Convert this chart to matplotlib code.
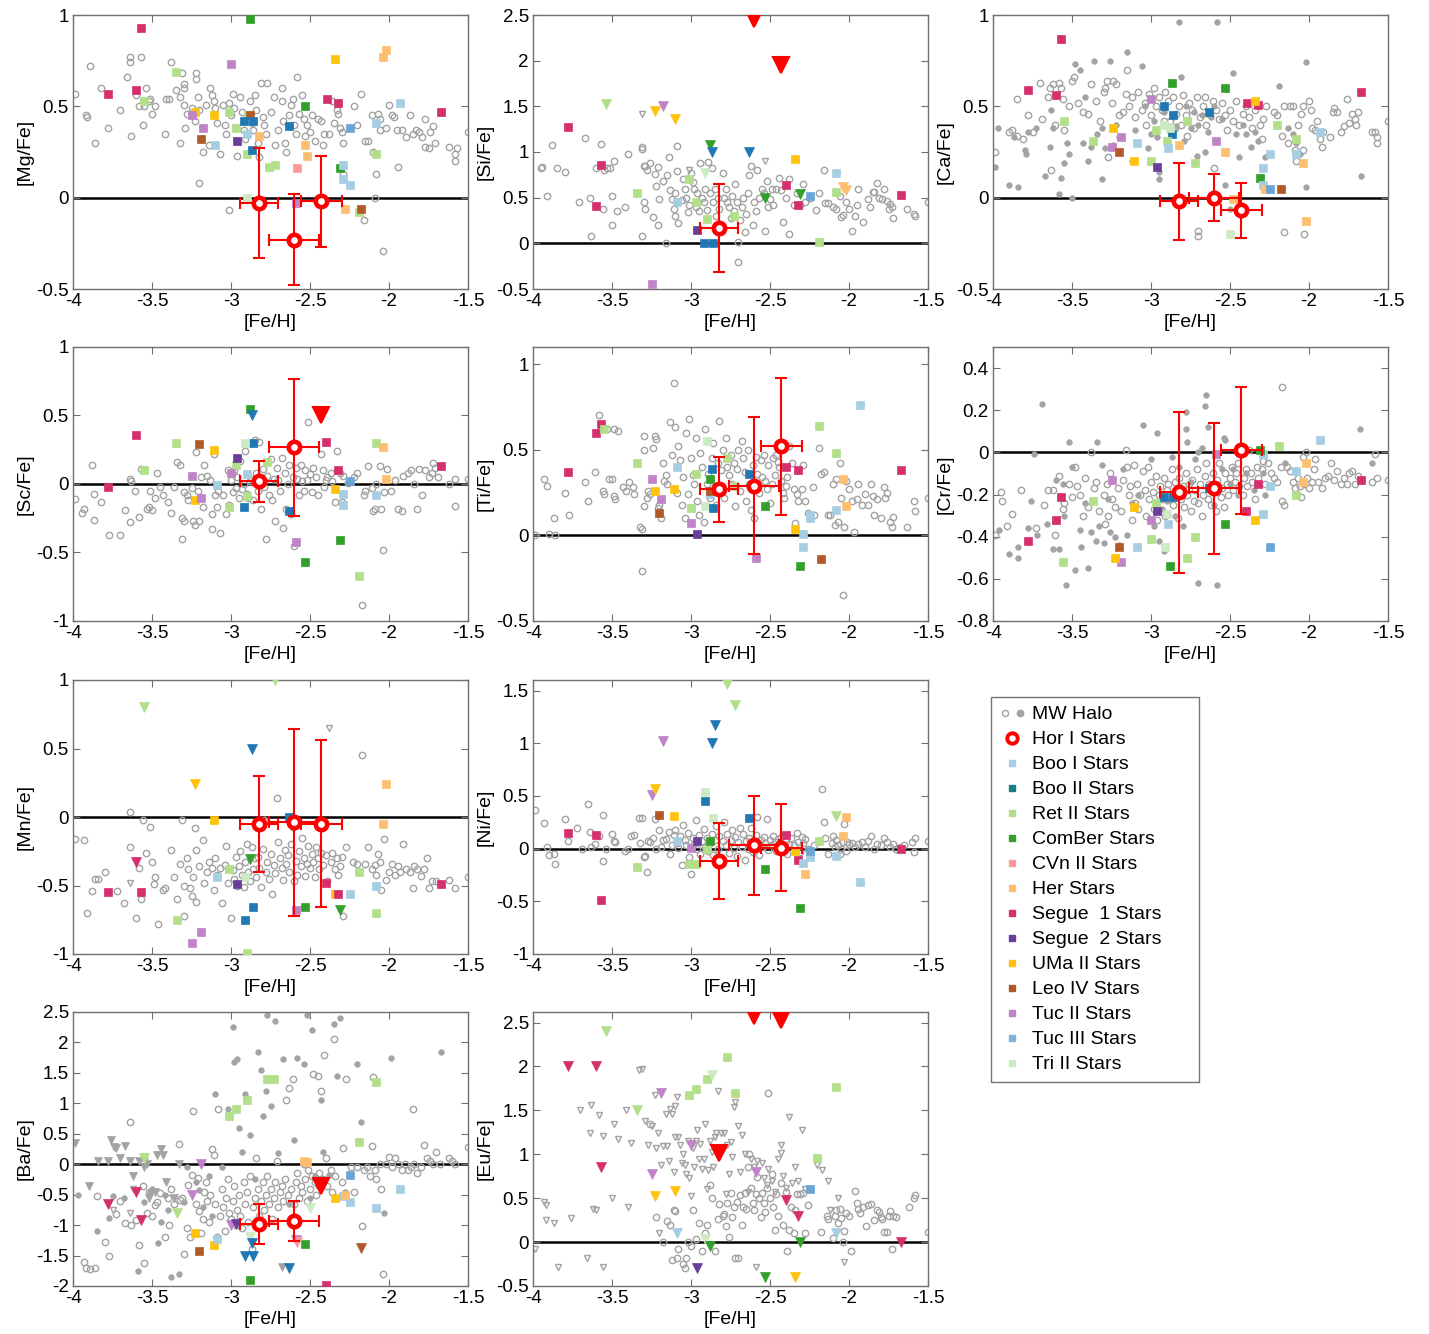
import matplotlib
matplotlib.use("Agg")
import matplotlib.pyplot as plt
from matplotlib.lines import Line2D
from matplotlib.legend_handler import HandlerTuple
from matplotlib.ticker import FuncFormatter

plt.rcParams['font.family'] = ['Liberation Sans', 'DejaVu Sans']

# ---------------- common data ----------------
GALAXIES = ['BooI', 'BooII', 'RetII', 'ComBer', 'CVnII', 'Her', 'Seg1', 'Seg2',
            'UMaII', 'LeoIV', 'TucII', 'TucIII', 'TriII']
GAL_LABELS = ['Boo I Stars', 'Boo II Stars', 'Ret II Stars', 'ComBer Stars', 'CVn II Stars',
              'Her Stars', 'Segue  1 Stars', 'Segue  2 Stars', 'UMa II Stars', 'Leo IV Stars',
              'Tuc II Stars', 'Tuc III Stars', 'Tri II Stars']
HOR_FEH = [-2.82, -2.60, -2.43]
HOR_FEH_ERR = [0.12, 0.16, 0.13]

# ---------------- [Mg/Fe] ----------------
MG_HALO = [(-3.99,0.57),(-3.92,0.45),(-3.91,0.44),(-3.89,0.72),(-3.86,0.30),(-3.82,0.60),(-3.78,0.38),(-3.70,0.48),
 (-3.66,0.66),(-3.64,0.77),(-3.64,0.74),(-3.63,0.34),(-3.60,0.56),(-3.58,0.50),(-3.57,0.77),(-3.56,0.40),(-3.55,0.50),
 (-3.54,0.60),(-3.52,0.53),(-3.51,0.54),(-3.50,0.46),(-3.48,0.50),(-3.42,0.35),(-3.41,0.54),(-3.39,0.54),(-3.38,0.74),
 (-3.35,0.59),(-3.32,0.55),(-3.32,0.30),(-3.31,0.68),(-3.30,0.62),(-3.30,0.60),(-3.30,0.51),(-3.29,0.38),(-3.28,0.46),
 (-3.25,0.49),(-3.23,0.42),(-3.22,0.68),(-3.22,0.65),(-3.21,0.55),(-3.20,0.48),(-3.18,0.25),(-3.16,0.51),(-3.14,0.29),
 (-3.13,0.60),(-3.12,0.56),(-3.11,0.53),(-3.10,0.49),(-3.09,0.41),(-3.07,0.24),(-3.05,0.51),(-3.04,0.40),(-3.03,0.35),
 (-3.01,0.52),(-3.00,0.45),(-2.99,0.57),(-2.98,0.49),(-2.97,0.38),(-2.96,0.23),(-2.94,0.55),(-2.93,0.47),(-2.92,0.37),
 (-2.91,0.32),(-2.89,0.45),(-2.88,0.53),(-2.87,0.41),(-2.86,0.37),(-2.85,0.56),(-2.84,0.48),(-2.83,0.30),(-2.82,0.22),
 (-2.81,0.63),(-2.80,0.44),(-2.79,0.40),(-2.78,0.35),(-2.77,0.63),(-2.75,0.47),(-2.73,0.55),(-2.72,0.29),(-2.70,0.37),
 (-2.68,0.60),(-2.68,0.53),(-2.67,0.42),(-2.66,0.30),(-2.65,0.25),(-2.63,0.45),(-2.62,0.51),(-2.61,0.54),(-2.60,0.40),
 (-2.59,0.35),(-2.58,0.66),(-2.57,0.46),(-2.55,0.56),(-2.54,0.43),(-2.53,0.34),(-2.52,0.40),(-2.50,0.36),(-2.49,0.45),
 (-2.47,0.31),(-2.45,0.43),(-2.43,0.42),(-2.42,0.29),(-2.41,0.35),(-2.38,0.35),(-2.36,0.53),(-2.35,0.41),(-2.33,0.48),
 (-2.32,0.46),(-2.31,0.38),(-2.30,0.36),(-2.29,0.30),(-2.29,0.13),(-2.22,0.50),(-2.20,0.40),(-2.18,0.57),(-2.16,-0.12),
 (-2.15,0.31),(-2.13,0.31),(-2.11,0.45),(-2.10,0.25),(-2.09,0.00),(-2.08,0.13),(-2.07,0.46),(-2.06,0.43),(-2.06,0.37),
 (-2.04,-0.29),(-2.02,0.38),(-2.00,0.51),(-1.98,0.45),(-1.97,0.44),(-1.95,0.37),(-1.94,0.17),(-1.92,0.37),(-1.89,0.33),
 (-1.87,0.45),(-1.85,0.35),(-1.83,0.37),(-1.81,0.36),(-1.79,0.33),(-1.77,0.43),(-1.77,0.28),(-1.75,0.27),(-1.74,0.36),
 (-1.72,0.39),(-1.71,0.30),(-1.62,0.28),(-1.58,0.24),(-1.58,0.20),(-1.57,0.27),(-1.50,0.36),(-3.01,-0.07),(-3.20,0.08)]
MG_DWARF = [('Seg1',0,-3.57,0.93),('Seg1',0,-3.78,0.57),('Seg1',0,-3.60,0.59),('Seg1',0,-2.39,0.54),('Seg1',0,-2.32,0.52),
 ('Seg1',0,-1.67,0.47),('ComBer',0,-2.88,0.98),('ComBer',0,-2.53,0.50),('ComBer',0,-2.31,0.16),('UMaII',0,-2.34,0.76),
 ('UMaII',0,-3.23,0.47),('UMaII',0,-3.11,0.45),('Her',0,-2.02,0.81),('Her',0,-2.04,0.77),('Her',0,-2.82,0.34),
 ('Her',0,-2.53,0.29),('Her',0,-2.52,0.23),('Her',0,-2.28,-0.06),('TucII',0,-3.00,0.73),('TucII',0,-3.25,0.45),
 ('TucII',0,-3.18,0.38),('TucII',0,-2.59,-0.03),('RetII',0,-3.35,0.69),('RetII',0,-3.55,0.53),('RetII',0,-3.01,0.47),
 ('RetII',0,-2.97,0.38),('RetII',0,-2.90,0.24),('RetII',0,-2.76,0.17),('RetII',0,-2.72,0.18),('RetII',0,-2.08,0.24),
 ('RetII',0,-2.19,-0.08),('RetII',0,-2.89,0.45),('TriII',0,-2.90,0.00),('LeoIV',0,-3.19,0.32),('LeoIV',0,-2.88,0.45),
 ('LeoIV',0,-2.18,-0.06),('Seg2',0,-2.96,0.31),('BooII',0,-2.92,0.42),('BooII',0,-2.86,0.42),('BooII',0,-2.87,0.26),
 ('BooII',0,-2.63,0.39),('TucIII',0,-2.25,0.38),('BooI',0,-1.93,0.52),('BooI',0,-2.08,0.41),('BooI',0,-2.29,0.18),
 ('BooI',0,-2.29,0.10),('BooI',0,-2.25,0.07),('BooI',0,-3.10,0.29),('BooI',0,-2.90,0.35),('CVnII',0,-2.58,0.16)]
MG_HOR = [(0,-0.03,0.30),(1,-0.23,0.25),(2,-0.02,0.25)]

# ---------------- [Si/Fe] ----------------
SI_HALO = [(-3.95,0.83),(-3.94,0.84),(-3.91,0.52),(-3.88,1.08),(-3.85,0.83),(-3.80,0.78),(-3.71,0.45),(-3.67,1.15),
 (-3.64,0.50),(-3.63,0.08),(-3.60,0.82),(-3.57,1.09),(-3.56,0.38),(-3.55,0.80),(-3.53,0.82),(-3.51,0.83),(-3.50,0.52),
 (-3.50,0.20),(-3.49,0.90),(-3.47,0.35),(-3.42,0.40),(-3.40,0.98),(-3.31,1.03),(-3.31,1.05),(-3.31,0.08),(-3.30,0.85),
 (-3.30,0.45),(-3.29,0.38),(-3.29,0.85),(-3.28,0.80),(-3.26,0.88),(-3.24,0.29),(-3.23,0.76),(-3.22,0.63),(-3.21,0.84),
 (-3.21,0.20),(-3.20,0.49),(-3.18,0.68),(-3.16,0.00),(-3.15,0.75),(-3.14,0.94),(-3.13,0.58),(-3.12,0.48),(-3.11,0.38),
 (-3.10,0.55),(-3.10,0.30),(-3.09,0.79),(-3.09,1.07),(-3.08,0.22),(-3.06,0.47),(-3.05,0.70),(-3.04,0.60),(-3.03,0.50),
 (-3.02,0.34),(-3.01,0.42),(-3.00,0.77),(-2.99,0.67),(-2.98,0.60),(-2.97,0.40),(-2.96,0.55),(-2.95,0.35),(-2.94,0.88),
 (-2.93,0.50),(-2.92,0.45),(-2.91,0.60),(-2.90,0.37),(-2.89,0.89),(-2.88,0.55),(-2.87,0.82),(-2.86,0.45),(-2.85,0.60),
 (-2.84,0.30),(-2.83,0.50),(-2.82,0.38),(-2.81,0.20),(-2.80,0.77),(-2.79,0.50),(-2.78,0.60),(-2.77,0.45),(-2.76,0.40),
 (-2.75,0.28),(-2.74,0.52),(-2.73,0.35),(-2.72,0.65),(-2.71,0.45),(-2.70,0.02),(-2.70,-0.20),(-2.69,0.25),(-2.68,0.40),
 (-2.67,0.50),(-2.66,0.12),(-2.65,0.32),(-2.64,0.55),(-2.63,0.75),(-2.62,0.85),(-2.61,0.20),(-2.60,0.45),(-2.59,0.35),
 (-2.58,0.80),(-2.57,0.50),(-2.55,0.60),(-2.54,0.55),(-2.53,0.14),(-2.52,0.68),(-2.51,0.40),(-2.50,0.48),(-2.49,0.60),
 (-2.48,0.42),(-2.46,0.60),(-2.44,0.72),(-2.43,0.58),(-2.42,0.23),(-2.40,0.50),(-2.38,0.10),(-2.38,0.70),(-2.35,0.42),
 (-2.33,0.55),(-2.31,0.42),(-2.29,0.65),(-2.28,0.45),(-2.25,0.50),(-2.21,0.37),(-2.19,0.55),(-2.16,0.80),(-2.15,0.44),
 (-2.13,0.44),(-2.10,0.40),(-2.08,0.38),(-2.06,0.52),(-2.05,0.29),(-2.04,0.31),(-2.02,0.45),(-2.00,0.38),(-1.98,0.14),
 (-1.96,0.30),(-1.95,0.42),(-1.94,0.60),(-1.91,0.23),(-1.88,0.48),(-1.87,0.40),(-1.85,0.56),(-1.84,0.56),(-1.82,0.66),
 (-1.81,0.50),(-1.79,0.49),(-1.78,0.60),(-1.76,0.46),(-1.75,0.38),(-1.74,0.43),(-1.73,0.40),(-1.72,0.28),(-1.63,0.38),
 (-1.59,0.32),(-1.58,0.30),(-1.50,0.45)]
SI_HALO_LIM = [(-3.31,1.42),(-3.01,0.80),(-2.53,0.90)]
SI_DWARF = [('RetII',1,-3.54,1.53),('UMaII',1,-3.23,1.45),('UMaII',1,-3.10,1.36),('TucII',1,-3.18,1.50),
 ('ComBer',1,-2.88,1.08),('ComBer',1,-2.53,0.50),('ComBer',1,-2.31,0.54),('BooII',1,-2.87,1.00),('BooII',1,-2.63,1.00),
 ('TriII',1,-2.91,0.77),('Her',1,-2.04,0.62),('Her',1,-2.02,0.58),('TucII',0,-3.25,-0.45),('UMaII',0,-2.34,0.92),
 ('BooII',0,-2.92,0.00),('BooII',0,-2.86,0.00),('Seg1',0,-3.78,1.27),('Seg1',0,-3.57,0.86),('Seg1',0,-3.60,0.41),
 ('Seg1',0,-2.40,0.64),('Seg1',0,-2.32,0.42),('Seg1',0,-1.67,0.53),('RetII',0,-3.34,0.55),('RetII',0,-3.01,0.70),
 ('RetII',0,-2.97,0.45),('RetII',0,-2.90,0.27),('RetII',0,-2.73,0.30),('RetII',0,-2.19,0.02),('RetII',0,-2.08,0.56),
 ('BooI',0,-3.09,0.45),('BooI',0,-2.08,0.77),('TucIII',0,-2.25,0.52),('Seg2',0,-2.96,0.15)]
SI_HOR = [(0,0.17,0.48)]
SI_HOR_LIM = [(1,2.46),(2,1.95)]

# ---------------- [Ca/Fe] ----------------
CA_HALO = [(-3.99,0.25),(-3.90,0.36),(-3.88,0.37),(-3.85,0.54),(-3.85,0.34),(-3.81,0.32),(-3.78,0.45),(-3.75,0.36),
 (-3.70,0.63),(-3.69,0.43),(-3.65,0.55),(-3.64,0.60),(-3.63,0.15),(-3.62,0.62),(-3.61,0.40),(-3.58,0.63),(-3.57,0.60),
 (-3.56,0.54),(-3.55,0.37),(-3.52,0.50),(-3.50,0.64),(-3.49,0.66),(-3.46,0.52),(-3.43,0.47),(-3.40,0.46),(-3.38,0.62),
 (-3.35,0.53),(-3.32,0.42),(-3.30,0.58),(-3.29,0.60),(-3.28,0.64),(-3.27,0.22),(-3.25,0.52),(-3.24,0.64),(-3.22,0.62),
 (-3.20,0.45),(-3.18,0.47),(-3.16,0.57),(-3.15,0.70),(-3.14,0.50),(-3.12,0.55),(-3.10,0.44),(-3.08,0.58),(-3.06,0.48),
 (-3.04,0.52),(-3.03,0.40),(-3.01,0.57),(-3.00,0.45),(-2.98,0.60),(-2.97,0.50),(-2.95,0.55),(-2.93,0.48),(-2.92,0.42),
 (-2.91,0.58),(-2.89,0.53),(-2.88,0.42),(-2.86,0.55),(-2.85,0.38),(-2.84,0.46),(-2.82,0.50),(-2.81,0.40),(-2.80,0.56),
 (-2.78,0.45),(-2.77,0.34),(-2.76,0.52),(-2.74,0.48),(-2.73,0.38),(-2.71,0.55),(-2.70,-0.21),(-2.70,-0.18),(-2.69,0.44),
 (-2.67,0.50),(-2.66,0.55),(-2.65,0.40),(-2.63,0.46),(-2.61,0.53),(-2.60,0.16),(-2.59,0.48),(-2.57,0.43),(-2.55,0.52),
 (-2.53,0.45),(-2.52,0.37),(-2.50,0.48),(-2.48,0.42),(-2.46,0.53),(-2.44,0.40),(-2.42,0.46),(-2.40,0.50),(-2.38,0.44),
 (-2.36,0.38),(-2.34,0.48),(-2.31,0.40),(-2.30,0.32),(-2.29,0.43),(-2.27,0.50),(-2.22,0.47),(-2.20,0.45),(-2.17,0.34),
 (-2.16,0.50),(-2.16,-0.19),(-2.13,0.30),(-2.12,0.50),(-2.10,0.50),(-2.09,0.26),(-2.08,0.20),(-2.07,0.40),(-2.05,0.46),
 (-2.04,0.50),(-2.04,0.26),(-2.03,-0.20),(-2.00,0.53),(-1.99,0.48),(-1.98,0.38),(-1.96,0.37),(-1.95,0.42),(-1.93,0.32),
 (-1.92,0.28),(-1.91,0.36),(-1.87,0.33),(-1.85,0.47),(-1.84,0.49),(-1.82,0.47),(-1.80,0.36),(-1.78,0.39),(-1.76,0.54),
 (-1.75,0.41),(-1.73,0.46),(-1.71,0.43),(-1.70,0.40),(-1.69,0.47),(-1.60,0.36),(-1.58,0.36),(-1.57,0.33),(-1.57,0.30),
 (-1.50,0.42)]
CA_HALO_FILL = [(-3.99,0.17),(-3.97,0.38),(-3.90,0.07),(-3.87,0.33),(-3.84,0.06),(-3.80,0.26),(-3.79,0.24),(-3.78,0.36),
 (-3.73,0.38),(-3.67,0.12),(-3.64,0.28),(-3.63,0.48),(-3.62,0.38),(-3.57,0.11),(-3.58,0.02),(-3.55,0.19),(-3.53,0.30),
 (-3.52,0.24),(-3.48,0.73),(-3.45,0.70),(-3.43,0.30),(-3.42,0.55),(-3.40,0.20),(-3.38,0.28),(-3.36,0.75),(-3.34,0.35),
 (-3.31,0.38),(-3.31,0.10),(-3.29,0.27),(-3.26,0.75),(-3.24,0.29),(-3.22,0.40),(-3.20,0.33),(-3.15,0.80),(-3.12,0.20),
 (-3.10,0.37),(-3.06,0.72),(-3.04,0.50),(-3.02,0.27),(-3.00,0.35),(-2.98,0.42),(-2.96,0.33),(-2.95,0.14),(-2.95,0.10),
 (-2.92,0.47),(-2.90,0.30),(-2.88,0.36),(-2.86,0.44),(-2.84,0.39),(-2.82,0.96),(-2.81,0.66),(-2.79,0.31),(-2.78,0.50),
 (-2.75,0.38),(-2.73,0.47),(-2.71,0.23),(-2.70,0.40),(-2.68,0.45),(-2.66,0.25),(-2.64,0.36),(-2.62,0.44),(-2.60,0.50),
 (-2.58,0.96),(-2.55,0.43),(-2.53,0.07),(-2.50,-0.06),(-2.48,0.68),(-2.46,0.35),(-2.44,0.22),(-2.42,0.40),(-2.40,0.35),
 (-2.37,0.28),(-2.34,0.36),(-2.32,0.31),(-2.28,0.22),(-2.19,0.61),(-2.13,0.38),(-2.10,0.35),(-2.08,0.30),(-2.06,0.24),
 (-2.02,0.74),(-2.02,0.06),(-1.67,0.12),(-3.50,0.00)]
CA_DWARF = [('Seg1',0,-3.57,0.87),('Seg1',0,-3.78,0.59),('Seg1',0,-3.60,0.56),('Seg1',0,-2.39,0.52),('Seg1',0,-2.32,0.51),
 ('Seg1',0,-1.67,0.58),('ComBer',0,-2.87,0.63),('ComBer',0,-2.53,0.60),('ComBer',0,-2.31,0.11),('BooII',0,-2.92,0.50),
 ('BooII',0,-2.86,0.45),('BooII',0,-2.87,0.35),('BooII',0,-2.63,0.47),('UMaII',0,-3.24,0.38),('UMaII',0,-3.11,0.20),
 ('UMaII',0,-2.34,0.53),('RetII',0,-3.55,0.42),('RetII',0,-3.37,0.31),('RetII',0,-3.00,0.20),('RetII',0,-2.97,0.37),
 ('RetII',0,-2.90,0.31),('RetII',0,-2.77,0.42),('RetII',0,-2.72,0.19),('RetII',0,-2.20,0.40),('RetII',0,-2.08,0.32),
 ('TriII',0,-2.92,0.40),('TriII',0,-2.88,0.38),('TriII',0,-2.50,-0.20),('TucII',0,-3.00,0.54),('TucII',0,-3.19,0.33),
 ('TucII',0,-3.25,0.28),('TucII',0,-2.59,0.31),('LeoIV',0,-3.20,0.25),('LeoIV',0,-2.18,0.05),('Seg2',0,-2.96,0.17),
 ('BooI',0,-3.09,0.30),('BooI',0,-2.89,0.27),('BooI',0,-2.25,0.24),('BooI',0,-2.29,0.16),('BooI',0,-2.29,0.07),
 ('BooI',0,-2.08,0.24),('BooI',0,-1.93,0.36),('Her',0,-2.82,0.29),('Her',0,-2.53,0.25),('Her',0,-2.28,0.05),
 ('Her',0,-2.48,-0.01),('Her',0,-2.04,0.19),('Her',0,-2.02,-0.13),('TucIII',0,-2.25,0.05)]
CA_HOR = [(0,-0.02,0.21),(1,0.00,0.13),(2,-0.07,0.15)]

# ---------------- [Sc/Fe] ----------------
SC_HALO = [(-3.99,-0.11),(-3.94,-0.21),(-3.93,-0.18),(-3.88,0.14),(-3.87,-0.07),(-3.87,-0.26),(-3.82,-0.13),(-3.77,-0.37),
 (-3.70,-0.37),(-3.67,-0.19),(-3.64,0.04),(-3.64,-0.28),(-3.63,0.02),(-3.61,-0.05),(-3.58,-0.24),(-3.57,0.11),(-3.53,-0.18),
 (-3.52,-0.17),(-3.51,-0.05),(-3.50,-0.19),(-3.48,-0.10),(-3.47,0.08),(-3.45,-0.02),(-3.43,-0.08),(-3.40,-0.13),(-3.38,-0.21),
 (-3.36,-0.02),(-3.34,0.16),(-3.32,0.14),(-3.31,-0.25),(-3.31,-0.40),(-3.30,-0.27),(-3.30,-0.06),(-3.28,-0.08),(-3.27,-0.12),
 (-3.25,-0.03),(-3.24,-0.27),(-3.23,-0.30),(-3.22,0.23),(-3.21,-0.05),(-3.20,-0.27),(-3.19,0.05),(-3.18,-0.17),(-3.17,0.14),
 (-3.15,0.06),(-3.13,0.03),(-3.12,-0.22),(-3.12,-0.33),(-3.11,0.22),(-3.10,-0.08),(-3.09,-0.17),(-3.08,-0.05),(-3.07,-0.36),
 (-3.05,-0.08),(-3.03,-0.22),(-3.02,0.10),(-3.01,-0.15),(-3.00,0.03),(-2.99,-0.06),(-2.98,0.10),(-2.97,-0.03),(-2.96,0.05),
 (-2.95,-0.10),(-2.94,0.17),(-2.93,-0.04),(-2.92,0.00),(-2.91,0.24),(-2.90,-0.07),(-2.89,-0.10),(-2.88,0.02),(-2.87,0.04),
 (-2.86,-0.12),(-2.85,0.32),(-2.84,0.08),(-2.83,-0.05),(-2.82,0.31),(-2.81,-0.18),(-2.80,0.11),(-2.79,-0.02),(-2.78,-0.40),
 (-2.77,0.06),(-2.76,-0.08),(-2.75,0.18),(-2.74,-0.12),(-2.73,0.04),(-2.72,-0.27),(-2.71,0.12),(-2.70,0.03),(-2.69,-0.05),
 (-2.68,0.19),(-2.67,-0.32),(-2.66,0.08),(-2.65,-0.18),(-2.64,0.00),(-2.63,0.14),(-2.62,-0.22),(-2.61,0.05),(-2.60,-0.45),
 (-2.59,0.12),(-2.58,0.04),(-2.57,-0.08),(-2.56,0.14),(-2.55,0.02),(-2.54,-0.05),(-2.53,0.10),(-2.52,0.03),(-2.51,0.45),
 (-2.50,0.07),(-2.49,-0.06),(-2.48,0.12),(-2.46,0.05),(-2.45,-0.08),(-2.43,0.22),(-2.42,0.10),(-2.41,-0.02),(-2.40,0.03),
 (-2.39,0.05),(-2.37,0.08),(-2.36,0.02),(-2.34,-0.13),(-2.33,0.24),(-2.31,0.08),(-2.30,-0.13),(-2.29,0.06),(-2.26,0.01),
 (-2.22,0.05),(-2.20,0.08),(-2.17,-0.88),(-2.16,-0.08),(-2.15,-0.05),(-2.13,0.13),(-2.11,-0.03),(-2.10,-0.20),(-2.09,-0.18),
 (-2.08,0.00),(-2.06,0.13),(-2.05,-0.18),(-2.04,-0.48),(-2.03,-0.06),(-2.01,0.11),(-1.99,-0.05),(-1.96,0.03),(-1.94,-0.18),
 (-1.92,-0.20),(-1.91,0.06),(-1.88,0.08),(-1.86,0.10),(-1.84,0.00),(-1.82,-0.18),(-1.81,0.11),(-1.79,-0.08),(-1.77,0.10),
 (-1.75,0.05),(-1.73,0.08),(-1.72,0.15),(-1.71,0.12),(-1.69,0.05),(-1.62,0.00),(-1.58,0.04),(-1.58,-0.16),(-1.50,0.04)]
SC_DWARF = [('Seg1',0,-3.60,0.36),('Seg1',0,-3.78,-0.02),('Seg1',0,-2.40,0.31),('Seg1',0,-2.32,0.10),('Seg1',0,-1.67,0.13),
 ('ComBer',0,-2.88,0.55),('ComBer',0,-2.53,-0.57),('ComBer',0,-2.31,-0.41),('BooII',1,-2.87,0.50),('BooII',0,-2.86,0.30),
 ('BooII',0,-2.92,-0.17),('BooII',0,-2.63,-0.20),('RetII',0,-3.35,0.30),('RetII',0,-3.55,0.10),('RetII',0,-2.97,0.14),
 ('RetII',0,-3.01,-0.17),('RetII',0,-2.77,0.16),('RetII',0,-2.90,-0.09),('RetII',0,-2.08,0.30),('RetII',0,-2.19,-0.67),
 ('TriII',0,-2.91,0.30),('LeoIV',0,-3.20,0.29),('UMaII',0,-3.11,0.25),('UMaII',0,-3.23,-0.12),('UMaII',0,-2.34,-0.04),
 ('Seg2',0,-2.96,0.19),('TucII',0,-3.00,0.08),('TucII',0,-3.25,0.06),('TucII',0,-3.19,-0.10),('TucII',0,-2.59,-0.42),
 ('BooI',0,-2.90,0.07),('BooI',0,-3.09,-0.01),('BooI',0,-2.29,-0.07),('BooI',0,-2.29,-0.15),('BooI',0,-2.08,-0.08),
 ('TucIII',0,-2.25,0.02),('Her',0,-2.04,0.27),('Her',0,-2.02,0.04)]
SC_HOR = [(0,0.02,0.15),(1,0.27,0.50)]
SC_HOR_LIM = [(2,0.50)]

# ---------------- [Ti/Fe] ----------------
TI_HALO = [(-3.99,0.00),(-3.93,0.33),(-3.91,0.29),(-3.87,0.10),(-3.86,0.00),(-3.80,0.25),(-3.77,0.12),(-3.90,0.01),
 (-3.67,0.31),(-3.65,0.20),(-3.61,0.37),(-3.58,0.70),(-3.56,0.26),(-3.55,0.24),(-3.53,0.62),(-3.52,0.33),(-3.50,0.33),
 (-3.49,0.62),(-3.49,0.23),(-3.48,0.21),(-3.46,0.61),(-3.43,0.28),(-3.41,0.26),(-3.39,0.31),(-3.37,0.28),(-3.36,0.24),
 (-3.32,0.05),(-3.31,0.04),(-3.31,-0.21),(-3.30,0.17),(-3.30,0.58),(-3.30,0.50),(-3.28,0.22),(-3.27,0.26),(-3.26,0.24),
 (-3.24,0.51),(-3.23,0.58),(-3.22,0.56),(-3.21,0.16),(-3.20,0.18),(-3.19,0.10),(-3.18,0.42),(-3.17,0.32),(-3.16,0.35),
 (-3.15,0.30),(-3.13,0.66),(-3.12,0.47),(-3.11,0.89),(-3.10,0.63),(-3.09,0.25),(-3.08,0.52),(-3.07,0.44),(-3.06,0.18),
 (-3.05,0.34),(-3.04,0.10),(-3.03,0.60),(-3.02,0.24),(-3.01,0.68),(-3.00,0.45),(-2.99,0.35),(-2.98,0.30),(-2.97,0.57),
 (-2.96,0.20),(-2.95,0.12),(-2.94,0.48),(-2.93,0.40),(-2.92,0.08),(-2.91,0.62),(-2.90,0.30),(-2.89,0.36),(-2.88,0.22),
 (-2.87,0.45),(-2.86,0.54),(-2.85,0.29),(-2.84,0.18),(-2.83,0.42),(-2.82,0.67),(-2.81,0.38),(-2.80,0.50),(-2.79,0.22),
 (-2.78,0.57),(-2.77,0.40),(-2.76,0.35),(-2.75,0.47),(-2.74,0.30),(-2.73,0.42),(-2.72,0.17),(-2.71,0.39),(-2.70,0.50),
 (-2.69,0.26),(-2.68,0.55),(-2.67,0.45),(-2.66,0.37),(-2.65,0.20),(-2.64,0.50),(-2.63,0.30),(-2.62,0.15),(-2.61,0.41),
 (-2.60,0.10),(-2.59,0.46),(-2.58,0.36),(-2.57,0.25),(-2.56,0.44),(-2.55,0.34),(-2.54,0.47),(-2.53,0.32),(-2.52,0.27),
 (-2.51,0.41),(-2.50,0.19),(-2.49,0.30),(-2.48,0.45),(-2.47,0.35),(-2.46,0.47),(-2.45,0.43),(-2.44,0.40),(-2.43,0.32),
 (-2.42,0.25),(-2.41,0.22),(-2.40,0.29),(-2.39,0.34),(-2.38,0.52),(-2.36,0.42),(-2.35,0.27),(-2.34,0.07),(-2.33,0.24),
 (-2.32,0.20),(-2.30,0.27),(-2.29,0.41),(-2.28,0.20),(-2.26,0.13),(-2.23,0.28),(-2.22,0.12),(-2.19,0.51),(-2.18,0.36),
 (-2.16,0.37),(-2.13,0.12),(-2.12,0.12),(-2.10,0.30),(-2.09,0.06),(-2.08,0.33),(-2.07,0.08),(-2.06,0.42),(-2.05,0.22),
 (-2.04,-0.35),(-2.03,0.05),(-2.02,0.32),(-2.00,0.27),(-1.98,0.20),(-1.97,0.02),(-1.95,0.21),(-1.94,0.30),(-1.92,0.18),
 (-1.90,0.24),(-1.88,0.18),(-1.86,0.30),(-1.85,0.23),(-1.84,0.12),(-1.82,0.21),(-1.80,0.10),(-1.78,0.28),(-1.77,0.22),
 (-1.76,0.25),(-1.74,0.08),(-1.73,0.05),(-1.72,0.11),(-1.63,0.05),(-1.59,0.20),(-1.58,0.14),(-1.50,0.22)]
TI_DWARF = [('Seg1',0,-3.60,0.60),('Seg1',0,-3.57,0.65),('Seg1',0,-3.78,0.37),('Seg1',0,-2.40,0.40),('Seg1',0,-2.32,0.38),
 ('Seg1',0,-1.67,0.38),('RetII',0,-3.55,0.62),('RetII',0,-3.34,0.42),('RetII',0,-3.00,0.16),('RetII',0,-2.97,0.36),
 ('RetII',0,-2.77,0.45),('RetII',0,-2.72,0.29),('RetII',0,-2.19,0.64),('RetII',0,-2.08,0.48),('TriII',0,-2.90,0.55),
 ('TriII',0,-2.91,0.17),('BooI',0,-3.09,0.40),('BooI',0,-2.88,0.24),('BooI',0,-2.25,0.12),('BooI',0,-2.25,0.10),
 ('BooI',0,-2.29,0.01),('BooI',0,-2.29,-0.07),('BooI',0,-2.08,0.15),('BooI',0,-1.93,0.76),('BooII',0,-2.87,0.39),
 ('BooII',0,-2.86,0.16),('BooII',0,-2.63,0.36),('ComBer',0,-2.88,0.33),('ComBer',0,-2.53,0.17),('ComBer',0,-2.31,-0.18),
 ('TucII',0,-3.25,0.33),('TucII',0,-3.19,0.21),('TucII',0,-3.00,0.07),('TucII',0,-2.59,-0.13),('UMaII',0,-3.23,0.26),
 ('UMaII',0,-3.11,0.27),('UMaII',0,-2.34,0.04),('LeoIV',0,-3.20,0.13),('LeoIV',0,-2.88,0.26),('LeoIV',0,-2.18,-0.14),
 ('Seg2',0,-2.96,0.01),('Her',0,-2.04,0.33),('Her',0,-2.02,0.17)]
TI_HOR = [(0,0.27,0.19),(1,0.29,0.40),(2,0.52,0.40)]

# ---------------- [Cr/Fe] ----------------
CR_HALO = [(-3.99,-0.39),(-3.95,-0.19),(-3.94,-0.23),(-3.91,-0.35),(-3.88,-0.29),(-3.82,-0.18),(-3.73,-0.36),(-3.68,-0.25),
 (-3.65,-0.18),(-3.62,-0.18),(-3.61,-0.39),(-3.58,-0.11),(-3.56,-0.27),(-3.55,-0.24),(-3.52,-0.15),(-3.50,-0.21),(-3.48,-0.07),
 (-3.47,-0.16),(-3.45,-0.20),(-3.43,-0.30),(-3.42,-0.12),(-3.40,-0.26),(-3.38,0.00),(-3.36,-0.17),(-3.35,-0.14),(-3.33,-0.28),
 (-3.30,-0.20),(-3.29,-0.34),(-3.28,-0.15),(-3.27,-0.30),(-3.26,-0.10),(-3.25,-0.22),(-3.23,-0.26),(-3.21,-0.17),(-3.19,-0.28),
 (-3.18,-0.13),(-3.16,0.01),(-3.15,-0.07),(-3.14,-0.20),(-3.13,-0.16),(-3.12,-0.32),(-3.11,-0.06),(-3.10,-0.24),(-3.09,-0.15),
 (-3.08,-0.27),(-3.07,-0.20),(-3.05,-0.09),(-3.04,-0.18),(-3.03,-0.30),(-3.02,-0.07),(-3.01,-0.22),(-3.00,-0.14),(-2.99,-0.19),
 (-2.98,-0.27),(-2.97,-0.11),(-2.96,-0.32),(-2.95,-0.20),(-2.94,-0.16),(-2.93,-0.22),(-2.92,-0.12),(-2.91,-0.30),(-2.90,-0.18),
 (-2.89,-0.15),(-2.88,-0.22),(-2.87,-0.08),(-2.86,-0.25),(-2.85,-0.14),(-2.84,-0.19),(-2.83,-0.31),(-2.82,-0.12),(-2.81,-0.22),
 (-2.80,-0.16),(-2.79,-0.26),(-2.78,-0.10),(-2.77,-0.20),(-2.76,-0.15),(-2.75,-0.28),(-2.74,-0.13),(-2.73,-0.23),(-2.72,-0.18),
 (-2.71,-0.08),(-2.70,-0.24),(-2.69,-0.15),(-2.68,-0.30),(-2.67,-0.20),(-2.66,-0.11),(-2.65,-0.05),(-2.64,-0.22),(-2.63,-0.15),
 (-2.62,-0.25),(-2.61,-0.10),(-2.60,-0.19),(-2.59,-0.28),(-2.58,-0.13),(-2.57,-0.05),(-2.56,-0.21),(-2.55,-0.17),(-2.54,-0.26),
 (-2.53,-0.10),(-2.52,-0.15),(-2.51,-0.20),(-2.50,-0.12),(-2.49,-0.07),(-2.48,-0.18),(-2.47,-0.14),(-2.46,-0.10),(-2.45,-0.05),
 (-2.44,-0.16),(-2.42,-0.20),(-2.41,-0.12),(-2.40,-0.08),(-2.39,-0.16),(-2.38,0.01),(-2.37,-0.10),(-2.36,-0.14),(-2.34,-0.22),
 (-2.33,-0.07),(-2.32,-0.12),(-2.30,-0.08),(-2.29,-0.04),(-2.28,-0.15),(-2.26,-0.05),(-2.24,-0.10),(-2.22,-0.12),(-2.20,-0.14),
 (-2.18,-0.07),(-2.17,-0.23),(-2.16,-0.25),(-2.17,0.31),(-2.14,-0.07),(-2.12,-0.09),(-2.10,-0.14),(-2.09,-0.17),(-2.08,-0.09),
 (-2.07,-0.12),(-2.06,-0.16),(-2.05,-0.21),(-2.04,-0.02),(-2.03,-0.15),(-2.02,0.00),(-2.01,-0.12),(-2.00,-0.17),(-1.98,-0.14),
 (-1.97,-0.08),(-1.96,-0.03),(-1.94,-0.14),(-1.92,-0.17),(-1.90,-0.12),(-1.88,-0.11),(-1.86,-0.05),(-1.84,-0.13),(-1.82,-0.09),
 (-1.80,-0.15),(-1.78,-0.12),(-1.76,-0.15),(-1.75,-0.10),(-1.73,-0.09),(-1.71,-0.15),(-1.69,-0.11),(-1.67,-0.13),(-1.60,-0.14),
 (-1.58,-0.01),(-1.57,-0.12),(-1.50,-0.13)]
CR_HALO_FILL = [(-3.96,-0.37),(-3.90,-0.48),(-3.84,-0.50),(-3.84,-0.45),(-3.78,-0.36),(-3.76,-0.23),(-3.74,-0.01),
 (-3.72,-0.39),(-3.69,0.23),(-3.66,-0.34),(-3.62,-0.46),(-3.60,-0.13),(-3.58,-0.46),(-3.56,-0.15),(-3.55,-0.30),(-3.54,-0.63),
 (-3.52,0.05),(-3.50,-0.07),(-3.48,-0.56),(-3.45,-0.37),(-3.44,-0.45),(-3.42,-0.24),(-3.40,-0.55),(-3.38,-0.38),(-3.35,-0.42),
 (-3.34,0.05),(-3.33,-0.35),(-3.31,-0.06),(-3.30,-0.43),(-3.27,-0.22),(-3.26,-0.38),(-3.23,-0.40),(-3.20,-0.44),(-3.18,-0.08),
 (-3.15,-0.39),(-3.12,-0.24),(-3.08,-0.20),(-3.05,0.13),(-3.00,-0.03),(-2.98,-0.35),(-2.96,0.09),(-2.95,-0.42),(-2.93,-0.27),
 (-2.92,-0.47),(-2.90,-0.23),(-2.87,-0.02),(-2.85,-0.30),(-2.82,-0.07),(-2.80,-0.35),(-2.78,0.19),(-2.78,0.11),(-2.77,0.05),
 (-2.75,-0.14),(-2.72,-0.03),(-2.70,0.00),(-2.70,-0.62),(-2.68,0.02),(-2.66,0.22),(-2.65,0.27),(-2.64,0.12),(-2.60,-0.25),
 (-2.58,-0.63),(-2.55,-0.08),(-2.54,0.07),(-2.53,0.06),(-2.50,-0.15),(-2.48,-0.08),(-2.45,-0.20),(-2.40,-0.10),(-2.35,-0.18),
 (-2.29,-0.10),(-2.28,-0.20),(-2.15,-0.05),(-1.68,0.11),(-1.60,-0.05)]
CR_DWARF = [('Seg1',0,-3.57,-0.21),('Seg1',0,-3.60,-0.32),('Seg1',0,-3.78,-0.42),('Seg1',0,-2.40,-0.28),('Seg1',0,-2.32,-0.15),
 ('Seg1',0,-1.67,-0.13),('RetII',0,-3.56,-0.52),('RetII',0,-3.37,-0.23),('RetII',0,-3.00,-0.41),('RetII',0,-2.97,-0.24),
 ('RetII',0,-2.77,-0.50),('RetII',0,-2.72,-0.40),('RetII',0,-2.19,0.03),('RetII',0,-2.08,-0.20),('TriII',0,-2.90,-0.29),
 ('TriII',0,-2.91,-0.45),('TriII',0,-2.92,-0.20),('TucII',0,-3.25,-0.13),('TucII',0,-3.19,-0.52),('TucII',0,-3.00,-0.32),
 ('TucII',0,-2.59,-0.01),('UMaII',0,-3.11,-0.26),('UMaII',0,-3.23,-0.50),('UMaII',0,-2.34,-0.32),('LeoIV',0,-3.20,-0.45),
 ('Seg2',0,-2.96,-0.28),('BooI',0,-3.09,-0.45),('BooI',0,-2.89,-0.34),('BooI',0,-2.29,-0.01),('BooI',0,-2.29,-0.29),
 ('BooI',0,-2.25,-0.16),('BooI',0,-2.08,-0.09),('BooI',0,-1.93,0.06),('BooII',0,-2.92,-0.21),('BooII',0,-2.86,-0.21),
 ('BooII',0,-2.63,-0.17),('ComBer',0,-2.88,-0.54),('ComBer',0,-2.53,-0.34),('ComBer',0,-2.31,0.01),('Her',0,-2.04,-0.14),
 ('Her',0,-2.02,-0.05),('TucIII',0,-2.25,-0.45)]
CR_HOR = [(0,-0.19,0.38),(1,-0.17,0.31),(2,0.01,0.30)]

# ---------------- [Mn/Fe] ----------------
MN_HALO = [(-3.99,-0.16),(-3.93,-0.17),(-3.91,-0.70),(-3.88,-0.54),(-3.86,-0.45),(-3.84,-0.45),(-3.80,-0.40),(-3.72,-0.54),
 (-3.68,-0.63),(-3.64,0.04),(-3.64,-0.22),(-3.60,-0.74),(-3.58,-0.37),(-3.57,-0.60),(-3.56,-0.02),(-3.54,-0.26),(-3.51,-0.07),
 (-3.50,-0.33),(-3.49,-0.49),(-3.48,-0.44),(-3.46,-0.78),(-3.43,-0.53),(-3.42,-0.52),(-3.38,-0.24),(-3.36,-0.44),(-3.34,-0.60),
 (-3.32,-0.34),(-3.31,-0.02),(-3.30,-0.72),(-3.30,-0.50),(-3.28,-0.30),(-3.27,-0.38),(-3.26,-0.52),(-3.25,-0.58),(-3.24,-0.44),
 (-3.23,-0.08),(-3.22,-0.24),(-3.22,-0.62),(-3.20,-0.36),(-3.18,-0.17),(-3.17,-0.48),(-3.15,-0.40),(-3.14,-0.33),(-3.12,-0.37),
 (-3.11,-0.53),(-3.10,-0.30),(-3.09,-0.42),(-3.07,-0.37),(-3.06,-0.63),(-3.04,-0.35),(-3.03,-0.21),(-3.02,-0.48),(-3.00,-0.74),
 (-2.99,-0.39),(-2.98,-0.45),(-2.97,-0.29),(-2.96,-0.50),(-2.95,-0.36),(-2.94,-0.25),(-2.93,-0.42),(-2.92,-0.51),(-2.91,-0.33),
 (-2.90,-0.20),(-2.89,-0.40),(-2.88,-0.47),(-2.87,-0.22),(-2.86,-0.38),(-2.85,-0.30),(-2.84,-0.44),(-2.83,-0.29),(-2.82,-0.37),
 (-2.81,-0.51),(-2.80,-0.23),(-2.79,-0.02),(-2.78,-0.40),(-2.77,-0.33),(-2.76,-0.45),(-2.75,-0.27),(-2.74,-0.56),(-2.73,-0.35),
 (-2.72,-0.41),(-2.71,0.14),(-2.70,-0.18),(-2.69,-0.30),(-2.68,-0.37),(-2.67,-0.46),(-2.66,-0.24),(-2.65,-0.34),(-2.64,-0.28),
 (-2.63,-0.40),(-2.62,-0.20),(-2.61,-0.07),(-2.60,-0.47),(-2.59,-0.32),(-2.58,-0.42),(-2.57,-0.25),(-2.56,-0.36),(-2.55,-0.15),
 (-2.54,-0.30),(-2.53,-0.43),(-2.52,-0.34),(-2.51,-0.21),(-2.50,-0.37),(-2.49,-0.27),(-2.48,-0.33),(-2.47,-0.44),(-2.46,-0.22),
 (-2.45,-0.30),(-2.44,-0.38),(-2.43,-0.26),(-2.42,-0.35),(-2.40,-0.28),(-2.39,-0.47),(-2.37,-0.33),(-2.36,-0.26),(-2.34,-0.38),
 (-2.33,-0.30),(-2.32,-0.42),(-2.31,-0.36),(-2.30,-0.29),(-2.29,-0.72),(-2.27,-0.22),(-2.23,-0.33),(-2.20,-0.34),(-2.17,0.45),
 (-2.15,-0.34),(-2.13,-0.22),(-2.11,-0.38),(-2.09,-0.35),(-2.08,-0.42),(-2.07,-0.27),(-2.06,-0.33),(-2.05,-0.53),(-2.03,-0.16),
 (-2.02,-0.46),(-2.00,-0.40),(-1.98,-0.34),(-1.96,-0.42),(-1.94,-0.36),(-1.93,-0.40),(-1.91,-0.20),(-1.89,-0.38),(-1.87,-0.40),
 (-1.85,-0.52),(-1.84,-0.36),(-1.82,-0.38),(-1.80,-0.43),(-1.78,-0.38),(-1.76,-0.30),(-1.75,-0.52),(-1.73,-0.47),(-1.70,-0.47),
 (-1.62,-0.46),(-1.58,-0.52),(-1.50,-0.44)]
MN_HALO_LIM = [(-2.38,0.65),(-3.64,-0.48)]
MN_DWARF = [('RetII',1,-3.55,0.80),('RetII',1,-2.72,1.00),('RetII',0,-3.34,-0.75),('RetII',0,-3.01,-0.38),('RetII',0,-2.90,-0.99),
 ('RetII',0,-2.19,-0.40),('RetII',0,-2.08,-0.70),('BooII',1,-2.87,0.50),('BooII',0,-2.63,0.00),('BooII',0,-2.86,-0.66),
 ('BooII',0,-2.91,-0.75),('UMaII',1,-3.23,0.24),('UMaII',0,-3.11,-0.02),('UMaII',0,-2.34,-0.56),('Seg1',1,-3.60,-0.33),
 ('Seg1',0,-3.78,-0.55),('Seg1',0,-3.57,-0.55),('Seg1',0,-2.40,-0.48),('Seg1',0,-2.32,-0.56),('Seg1',0,-1.67,-0.49),
 ('ComBer',1,-2.88,-0.31),('ComBer',1,-2.31,-0.68),('ComBer',0,-2.53,-0.66),('BooI',0,-3.09,-0.44),('BooI',0,-2.25,-0.56),
 ('BooI',0,-2.08,-0.50),('TriII',0,-2.91,-0.44),('TucII',0,-3.25,-0.92),('TucII',0,-3.19,-0.84),('TucII',0,-2.59,-0.68),
 ('Seg2',0,-2.96,-0.49),('Her',0,-2.02,0.24),('Her',0,-2.04,-0.05)]
MN_HOR = [(0,-0.05,0.35),(1,-0.04,0.68),(2,-0.05,0.61)]

# ---------------- [Ni/Fe] ----------------
NI_HALO = [(-3.99,0.37),(-3.93,0.24),(-3.91,0.02),(-3.90,-0.06),(-3.87,-0.05),(-3.86,-0.15),(-3.80,0.28),(-3.78,0.07),
 (-3.72,0.20),(-3.69,0.00),(-3.65,0.42),(-3.64,0.16),(-3.63,0.02),(-3.61,0.04),(-3.58,0.12),(-3.56,0.32),(-3.56,-0.12),
 (-3.54,0.00),(-3.50,0.14),(-3.49,0.07),(-3.48,0.06),(-3.42,-0.02),(-3.40,0.00),(-3.38,0.12),(-3.36,0.13),(-3.33,0.29),
 (-3.32,0.05),(-3.31,0.29),(-3.30,-0.08),(-3.29,-0.07),(-3.28,-0.22),(-3.27,0.07),(-3.26,0.06),(-3.24,0.10),(-3.23,0.28),
 (-3.22,0.00),(-3.20,0.18),(-3.19,0.02),(-3.18,0.08),(-3.16,0.09),(-3.14,0.16),(-3.13,-0.05),(-3.12,0.03),(-3.11,0.13),
 (-3.10,0.18),(-3.09,0.05),(-3.08,0.01),(-3.07,0.12),(-3.06,-0.16),(-3.05,0.22),(-3.04,0.08),(-3.03,0.03),(-3.02,0.15),
 (-3.01,-0.08),(-3.00,-0.24),(-2.99,0.10),(-2.98,0.04),(-2.97,0.27),(-2.96,0.00),(-2.95,0.13),(-2.94,-0.05),(-2.93,0.07),
 (-2.92,0.19),(-2.91,0.02),(-2.90,0.10),(-2.89,-0.02),(-2.88,0.05),(-2.87,0.14),(-2.86,-0.06),(-2.85,0.08),(-2.84,0.21),
 (-2.83,0.00),(-2.82,0.12),(-2.81,-0.10),(-2.80,0.07),(-2.79,0.25),(-2.78,0.03),(-2.77,0.14),(-2.76,-0.04),(-2.75,0.08),
 (-2.74,0.18),(-2.73,0.01),(-2.72,0.11),(-2.71,-0.07),(-2.70,0.06),(-2.69,0.20),(-2.68,0.02),(-2.67,0.14),(-2.66,-0.11),
 (-2.65,0.07),(-2.64,0.00),(-2.63,0.10),(-2.62,0.20),(-2.61,-0.03),(-2.60,0.05),(-2.59,0.13),(-2.58,0.30),(-2.57,-0.06),
 (-2.56,0.08),(-2.55,0.02),(-2.54,0.11),(-2.53,0.05),(-2.52,0.28),(-2.51,-0.01),(-2.50,0.08),(-2.49,0.03),(-2.48,0.12),
 (-2.47,0.06),(-2.46,-0.02),(-2.45,0.09),(-2.44,0.04),(-2.43,0.11),(-2.42,0.01),(-2.40,0.07),(-2.39,-0.05),(-2.38,0.04),
 (-2.37,0.10),(-2.35,0.03),(-2.33,0.15),(-2.32,0.06),(-2.31,-0.03),(-2.30,0.11),(-2.29,0.05),(-2.28,0.09),(-2.26,0.00),
 (-2.22,0.03),(-2.19,0.07),(-2.17,0.57),(-2.16,0.25),(-2.15,0.10),(-2.13,-0.05),(-2.11,0.05),(-2.10,0.12),(-2.09,0.02),
 (-2.08,0.08),(-2.07,0.03),(-2.06,-0.05),(-2.05,0.00),(-2.04,0.06),(-2.03,0.23),(-2.02,-0.02),(-2.01,0.06),(-2.00,0.04),
 (-1.98,0.05),(-1.96,0.02),(-1.94,0.04),(-1.92,0.06),(-1.90,0.02),(-1.88,0.07),(-1.86,0.12),(-1.84,0.00),(-1.82,0.04),
 (-1.80,0.03),(-1.78,0.10),(-1.76,0.06),(-1.74,0.02),(-1.72,0.04),(-1.70,0.00),(-1.68,0.02),(-1.65,0.03),(-1.60,0.06),
 (-1.59,-0.03),(-1.58,0.10),(-1.50,0.07)]
NI_DWARF = [('RetII',1,-2.77,1.56),('RetII',1,-2.72,1.36),('RetII',1,-2.08,0.31),('RetII',0,-3.34,-0.17),('RetII',0,-3.01,-0.15),
 ('RetII',0,-2.97,-0.15),('RetII',0,-2.90,0.00),('RetII',0,-2.19,0.07),('TriII',0,-2.91,0.54),('TriII',0,-2.86,0.29),
 ('BooII',1,-2.85,1.17),('BooII',1,-2.87,1.00),('BooII',0,-2.91,0.45),('BooII',0,-2.63,0.29),('TucII',1,-3.18,1.02),
 ('TucII',1,-3.25,0.51),('TucII',0,-3.00,0.01),('UMaII',1,-3.23,0.57),('UMaII',0,-3.11,0.31),('UMaII',0,-2.34,-0.02),
 ('LeoIV',0,-3.20,0.32),('Seg1',0,-3.78,0.15),('Seg1',0,-3.60,0.13),('Seg1',0,-3.57,-0.49),('Seg1',0,-2.40,0.13),
 ('Seg1',0,-2.32,-0.11),('Seg1',0,-1.67,0.00),('Seg2',0,-2.96,0.07),('ComBer',0,-2.88,0.07),('ComBer',0,-2.53,-0.19),
 ('ComBer',0,-2.31,-0.56),('BooI',0,-3.09,0.07),('BooI',0,-2.29,-0.14),('BooI',0,-2.25,-0.08),('BooI',0,-2.08,-0.07),
 ('BooI',0,-1.93,-0.32),('TucIII',0,-2.25,-0.02),('Her',0,-2.04,0.12),('Her',0,-2.02,0.30),('Her',0,-2.28,-0.24)]
NI_HOR = [(0,-0.12,0.36),(1,0.03,0.47),(2,0.01,0.41)]

# ---------------- [Ba/Fe] ----------------
BA_HALO = [(-3.93,-1.60),(-3.92,-1.70),(-3.89,-1.72),(-3.86,-1.70),(-3.85,-0.52),(-3.80,-1.28),(-3.77,-1.50),(-3.73,-0.82),
 (-3.70,-0.60),(-3.67,-0.97),(-3.64,0.70),(-3.63,-1.00),(-3.60,-0.92),(-3.58,-1.33),(-3.56,-0.35),(-3.55,0.10),(-3.55,-1.62),
 (-3.53,-0.80),(-3.52,-0.45),(-3.50,-0.85),(-3.48,-0.67),(-3.47,-0.62),(-3.45,-0.48),(-3.42,-1.20),(-3.40,-0.55),(-3.39,-1.00),
 (-3.38,-0.40),(-3.36,-0.65),(-3.33,0.33),(-3.32,-0.58),(-3.31,-0.55),(-3.30,-1.47),(-3.28,-1.04),(-3.27,-0.34),(-3.26,-1.20),
 (-3.25,-0.17),(-3.24,0.88),(-3.22,-0.65),(-3.21,-0.22),(-3.20,-0.77),(-3.19,-1.13),(-3.18,-0.90),(-3.17,-0.45),(-3.16,-0.30),
 (-3.15,-0.60),(-3.14,-0.95),(-3.13,-0.50),(-3.12,0.25),(-3.11,0.15),(-3.10,-0.65),(-3.09,-1.20),(-3.08,0.90),(-3.07,-0.85),
 (-3.06,-0.40),(-3.05,-0.70),(-3.04,-1.10),(-3.03,-0.55),(-3.02,-0.25),(-3.01,-0.80),(-3.00,-0.90),(-2.99,-0.60),(-2.98,-0.35),
 (-2.97,-1.00),(-2.96,-0.75),(-2.95,-0.50),(-2.94,-0.85),(-2.93,-1.05),(-2.92,-0.30),(-2.91,-0.65),(-2.90,-0.45),(-2.89,-0.95),
 (-2.88,-0.20),(-2.87,-1.40),(-2.86,-0.70),(-2.85,-0.55),(-2.84,0.10),(-2.83,-0.40),(-2.82,-0.85),(-2.81,-0.60),(-2.80,-0.30),
 (-2.79,-0.75),(-2.78,-0.50),(-2.77,-0.20),(-2.76,-0.65),(-2.75,-0.40),(-2.74,-0.90),(-2.73,-0.55),(-2.72,-0.30),(-2.71,0.05),
 (-2.70,-0.70),(-2.69,-0.45),(-2.68,-0.35),(-2.67,-0.60),(-2.66,-0.25),(-2.65,1.05),(-2.64,-0.50),(-2.63,1.25),(-2.62,-0.40),
 (-2.61,1.40),(-2.60,-0.65),(-2.59,-0.30),(-2.58,-0.15),(-2.57,-0.55),(-2.56,-0.35),(-2.55,-0.45),(-2.54,0.00),(-2.53,-0.25),
 (-2.52,-0.60),(-2.51,-0.10),(-2.50,-0.40),(-2.49,-0.20),(-2.48,1.48),(-2.47,-0.30),(-2.46,-0.50),(-2.45,1.45),(-2.44,-0.15),
 (-2.43,1.20),(-2.42,-0.25),(-2.41,1.80),(-2.40,0.10),(-2.39,-0.35),(-2.37,-0.10),(-2.36,-0.45),(-2.35,2.05),(-2.34,-0.20),
 (-2.30,-0.30),(-2.29,0.27),(-2.27,1.40),(-2.24,-0.05),(-2.22,-0.45),(-2.20,-0.05),(-2.17,-1.02),(-2.16,-0.10),(-2.14,-0.04),
 (-2.12,-0.20),(-2.11,0.30),(-2.10,1.43),(-2.09,-0.10),(-2.08,-0.25),(-2.06,0.00),(-2.05,-0.40),(-2.04,-1.80),(-2.02,0.00),
 (-2.00,0.12),(-1.98,-0.05),(-1.96,0.10),(-1.94,0.00),(-1.92,-0.10),(-1.90,0.00),(-1.88,-0.10),(-1.86,-0.05),(-1.85,0.90),
 (-1.84,0.00),(-1.82,-0.15),(-1.80,-0.05),(-1.78,0.32),(-1.76,0.10),(-1.74,0.05),(-1.72,0.00),(-1.70,0.20),(-1.68,0.00),
 (-1.62,0.10),(-1.60,0.05),(-1.58,0.00),(-1.50,0.28)]
BA_HALO_FILL = [(-3.97,-0.50),(-3.85,-1.10),(-3.77,-0.88),(-3.75,-0.52),(-3.68,-0.55),(-3.59,-1.75),(-3.55,-0.62),
 (-3.51,-0.45),(-3.50,-0.40),(-3.46,-1.30),(-3.44,-0.95),(-3.42,-0.50),(-3.40,-0.75),(-3.38,-1.85),(-3.33,-1.80),(-3.30,-0.62),
 (-3.28,-0.05),(-3.22,-0.30),(-3.20,-0.42),(-3.18,-0.70),(-3.14,-0.20),(-3.12,-0.85),(-3.10,1.15),(-3.06,-0.05),(-3.02,0.90),
 (-2.99,2.25),(-2.98,1.68),(-2.96,1.73),(-2.95,0.60),(-2.93,0.20),(-2.91,1.15),(-2.88,0.48),(-2.85,-0.25),(-2.83,1.85),
 (-2.81,1.55),(-2.80,0.80),(-2.78,1.20),(-2.77,2.45),(-2.75,0.95),(-2.72,2.35),(-2.70,0.18),(-2.67,1.73),(-2.63,-0.65),
 (-2.60,0.40),(-2.58,1.75),(-2.54,1.65),(-2.52,2.45),(-2.49,2.20),(-2.43,1.05),(-2.42,0.20),(-2.38,-0.18),(-2.35,2.30),
 (-2.33,1.45),(-2.31,2.40),(-2.28,-0.45),(-2.20,1.65),(-2.18,0.70),(-2.03,-0.80),(-1.99,1.75),(-1.67,1.85),(-2.47,-0.20),
 (-2.50,-0.55),(-2.45,-0.35)]
BA_HALO_LIM_FILL = [(-3.99,0.35),(-3.90,-0.35),(-3.84,0.05),(-3.78,0.05),(-3.76,0.40),(-3.74,0.28),(-3.73,0.27),(-3.70,0.10),
 (-3.67,0.30),(-3.64,0.05),(-3.58,0.05),(-3.55,-0.05),(-3.53,0.00),(-3.48,-0.45),(-3.47,0.15),(-3.44,0.25),(-3.43,0.15),
 (-3.41,-0.30),(-3.33,0.00),(-3.36,-0.55),(-3.62,-0.20),(-3.52,-0.55),(-2.68,-1.68)]
BA_HALO_LIM = [(-3.75,-0.75),(-3.64,-0.80),(-3.62,-0.40)]
BA_DWARF = [('RetII',0,-2.77,1.40),('RetII',0,-2.73,1.40),('RetII',0,-2.90,1.05),('RetII',0,-2.97,0.90),('RetII',0,-3.01,0.80),
 ('RetII',0,-2.19,0.37),('RetII',0,-2.08,1.35),('RetII',1,-3.55,0.10),('RetII',1,-3.34,-0.80),('TucII',1,-3.19,0.00),
 ('TucII',1,-3.25,-0.50),('TucII',1,-3.00,-1.00),('TucII',1,-2.59,-1.25),('Seg1',1,-3.78,-0.65),('Seg1',1,-3.60,-0.45),
 ('Seg1',1,-3.57,-0.92),('Seg1',0,-2.40,-1.98),('Seg2',1,-2.97,-0.98),('LeoIV',0,-3.20,-1.43),('LeoIV',1,-2.18,-1.38),
 ('UMaII',0,-3.23,-1.13),('UMaII',0,-3.11,-1.33),('UMaII',0,-2.34,-0.55),('BooI',0,-3.09,-1.23),('BooI',0,-2.29,-0.52),
 ('BooI',0,-2.25,-0.62),('BooI',0,-2.08,-0.72),('BooI',0,-1.93,-0.40),('TriII',1,-2.88,-1.20),('TriII',1,-2.50,-0.72),
 ('BooII',1,-2.87,-1.30),('BooII',1,-2.91,-1.50),('BooII',1,-2.86,-1.50),('BooII',1,-2.63,-1.70),('ComBer',0,-2.88,-1.90),
 ('ComBer',0,-2.53,-1.31),('Her',0,-2.54,0.05),('Her',0,-2.52,0.03),('Her',0,-2.28,-0.50),('TucIII',0,-2.25,-0.18),
 ('CVnII',1,-2.58,-1.27)]
BA_HOR = [(0,-0.98,0.33),(1,-0.93,0.33)]
BA_HOR_LIM = [(2,-0.35)]

# ---------------- [Eu/Fe] ----------------
EU_HALO_LIM = [(-3.99,-0.08),(-3.93,0.46),(-3.92,0.42),(-3.92,0.25),(-3.87,0.22),(-3.84,-0.28),(-3.76,0.27),(-3.70,1.50),
 (-3.66,-0.18),(-3.64,1.24),(-3.63,1.56),(-3.62,0.38),(-3.60,0.37),(-3.58,1.45),(-3.56,1.21),(-3.56,-0.28),(-3.50,0.50),
 (-3.49,1.35),(-3.46,1.17),(-3.41,1.50),(-3.40,0.40),(-3.38,1.13),(-3.33,1.96),(-3.31,1.97),(-3.29,1.38),(-3.27,1.10),
 (-3.25,1.32),(-3.23,1.67),(-3.22,1.07),(-3.21,1.24),(-3.20,0.10),(-3.19,0.88),(-3.18,1.09),(-3.16,1.46),(-3.15,1.09),
 (-3.14,0.92),(-3.13,1.52),(-3.12,1.46),(-3.11,0.80),(-3.10,1.55),(-3.10,1.20),(-3.09,1.65),(-3.08,1.20),(-3.07,1.10),
 (-3.06,0.90),(-3.05,1.00),(-3.04,0.88),(-3.03,0.78),(-3.02,1.15),(-3.01,0.73),(-3.00,0.52),(-2.99,1.07),(-2.98,0.85),
 (-2.97,1.15),(-2.96,1.28),(-2.95,0.95),(-2.94,1.12),(-2.93,0.83),(-2.92,0.95),(-2.91,1.35),(-2.90,0.60),(-2.89,0.82),
 (-2.88,1.15),(-2.87,1.03),(-2.86,0.86),(-2.85,1.20),(-2.84,1.24),(-2.83,1.72),(-2.81,1.24),(-2.80,1.05),(-2.79,1.24),
 (-2.78,0.55),(-2.77,1.11),(-2.76,0.78),(-2.75,1.14),(-2.74,0.97),(-2.73,1.54),(-2.72,1.60),(-2.70,1.32),(-2.69,0.80),
 (-2.68,1.22),(-2.66,1.00),(-2.64,0.57),(-2.62,0.95),(-2.60,0.85),(-2.59,-0.28),(-2.58,0.92),(-2.55,0.90),(-2.54,0.73),
 (-2.52,0.65),(-2.51,0.83),(-2.49,0.70),(-2.47,0.57),(-2.45,0.95),(-2.43,1.02),(-2.43,1.10),(-2.42,0.75),(-2.40,0.62),
 (-2.38,1.42),(-2.36,0.67),(-2.34,0.85),(-2.32,0.70),(-2.30,1.28),(-2.28,0.60),(-2.20,0.88),(-2.17,0.82),(-2.13,0.70),
 (-2.07,0.50),(-2.03,-0.23),(-2.12,0.37)]
EU_HALO = [(-3.26,1.35),(-3.22,0.28),(-3.18,0.00),(-3.15,0.24),(-3.13,0.20),(-3.12,-0.20),(-3.11,0.37),(-3.10,0.35),
 (-3.09,-0.18),(-3.08,-0.08),(-3.05,-0.25),(-3.04,-0.30),(-3.03,-0.18),(-3.02,0.00),(-3.00,-0.05),(-2.99,0.37),(-2.97,0.04),
 (-2.95,0.22),(-2.93,-0.10),(-2.91,0.10),(-2.90,0.20),(-2.88,0.65),(-2.87,0.50),(-2.85,-0.10),(-2.83,0.26),(-2.82,0.43),
 (-2.80,0.30),(-2.79,0.32),(-2.78,0.18),(-2.77,0.45),(-2.76,0.06),(-2.75,0.56),(-2.74,0.28),(-2.73,0.40),(-2.72,-0.18),
 (-2.71,0.46),(-2.70,-0.18),(-2.69,0.54),(-2.68,0.20),(-2.67,0.40),(-2.66,0.56),(-2.65,0.38),(-2.64,0.85),(-2.63,1.00),
 (-2.62,0.62),(-2.61,0.45),(-2.60,0.36),(-2.59,0.55),(-2.58,0.74),(-2.57,0.50),(-2.56,0.28),(-2.55,0.56),(-2.54,0.44),
 (-2.53,0.34),(-2.52,0.62),(-2.51,1.70),(-2.50,0.50),(-2.49,0.78),(-2.48,0.40),(-2.47,0.14),(-2.46,0.55),(-2.45,0.30),
 (-2.43,0.67),(-2.42,0.20),(-2.40,0.57),(-2.39,-0.10),(-2.38,0.14),(-2.37,0.40),(-2.35,0.10),(-2.34,0.36),(-2.33,0.55),
 (-2.31,0.55),(-2.29,0.56),(-2.28,0.10),(-2.26,0.42),(-2.18,0.12),(-2.14,0.30),(-2.13,0.26),(-2.10,0.05),(-2.09,0.30),
 (-2.08,0.37),(-2.07,0.22),(-2.06,0.38),(-2.05,0.27),(-2.04,0.00),(-2.03,0.13),(-2.02,0.33),(-2.00,0.30),(-1.99,-0.10),
 (-1.96,0.58),(-1.95,0.45),(-1.94,0.38),(-1.93,0.33),(-1.91,0.40),(-1.89,0.18),(-1.88,0.42),(-1.86,0.43),(-1.84,0.25),
 (-1.82,0.36),(-1.81,0.34),(-1.80,0.28),(-1.79,0.26),(-1.78,0.12),(-1.76,0.12),(-1.75,0.30),(-1.74,0.35),(-1.73,-0.08),
 (-1.72,0.30),(-1.70,0.28),(-1.62,0.40),(-1.59,0.50),(-1.58,0.54),(-1.50,0.12)]
EU_DWARF = [('RetII',1,-3.54,2.40),('RetII',1,-3.34,1.50),('RetII',0,-2.77,2.11),('RetII',0,-2.97,1.74),('RetII',0,-3.01,1.68),
 ('RetII',0,-2.90,1.86),('RetII',0,-2.72,1.70),('RetII',0,-2.08,1.77),('RetII',0,-2.20,0.96),('TriII',1,-2.87,1.90),
 ('TriII',1,-2.91,0.03),('Seg1',1,-3.78,2.00),('Seg1',1,-3.60,2.00),('Seg1',1,-3.57,0.85),('Seg1',1,-2.40,0.48),
 ('Seg1',1,-2.32,0.30),('Seg1',1,-1.67,0.00),('TucII',1,-3.19,1.70),('TucII',1,-3.25,0.78),('TucII',1,-3.00,1.10),
 ('TucII',1,-2.59,0.80),('UMaII',1,-3.23,0.52),('UMaII',1,-3.10,0.58),('UMaII',1,-2.34,-0.40),('BooI',1,-3.09,0.10),
 ('BooI',1,-2.08,0.10),('ComBer',1,-2.88,-0.04),('ComBer',1,-2.53,-0.40),('ComBer',1,-2.31,0.00),('Seg2',1,-2.96,-0.30),
 ('TucIII',0,-2.25,0.60)]
EU_HOR_LIM = [(0,1.01),(1,2.57),(2,2.53)]

# ---------------- styles ----------------
GAL_COLORS = {'BooI': '#a6cee3', 'BooII': '#1f78b4', 'RetII': '#b2df8a', 'ComBer': '#33a02c',
              'CVnII': '#fb9a99', 'Her': '#fdbf6f', 'Seg1': '#d62f6e', 'Seg2': '#6a3d9a',
              'UMaII': '#ffc20e', 'LeoIV': '#b15928', 'TucII': '#c083c8', 'TucIII': '#6aa5d5',
              'TriII': '#ccebc5'}
LEGEND_COLORS = dict(GAL_COLORS, BooII='#16807e', TucIII='#7fb2d8')
GREY = '#a3a3a3'
SPINE = '#707070'

W, H = 1429, 1334
fig = plt.figure(figsize=(W / 100, H / 100), dpi=100)

def ax_at(left_px, top_px, w_px=395, h_px=274):
    return fig.add_axes([left_px / W, 1 - (top_px + h_px) / H, w_px / W, h_px / H])

fmt = FuncFormatter(lambda v, p: '%g' % round(v, 3))

def panel(ax, ylabel, ylim, yticks, halo=(), halo_fill=(), halo_lim=(), halo_lim_fill=(),
          dwarf=(), hor=(), hor_lim=()):
    ax.axhline(0, color='black', lw=1.8, zorder=1)
    if halo:
        xs, ys = zip(*halo)
        ax.plot(xs, ys, 'o', ms=4.6, mfc='none', mec=GREY, mew=1.0, zorder=2)
    if halo_fill:
        xs, ys = zip(*halo_fill)
        ax.plot(xs, ys, 'o', ms=4.0, mfc=GREY, mec=GREY, mew=0.5, zorder=2)
    if halo_lim:
        xs, ys = zip(*halo_lim)
        ax.plot(xs, ys, 'v', ms=4.8, mfc='none', mec=GREY, mew=1.0, zorder=2)
    if halo_lim_fill:
        xs, ys = zip(*halo_lim_fill)
        ax.plot(xs, ys, 'v', ms=5.6, mfc=GREY, mec=GREY, mew=0.5, zorder=2)
    for gal, lim, x, y in dwarf:
        if lim:
            ax.plot(x, y, 'v', ms=7.5, mfc=GAL_COLORS[gal], mec=GAL_COLORS[gal], mew=0.5, zorder=3)
        else:
            ax.plot(x, y, 's', ms=6.0, mfc=GAL_COLORS[gal], mec=GAL_COLORS[gal], mew=0.5, zorder=3)
    for i, y, ye in hor:
        ax.errorbar(HOR_FEH[i], y, xerr=HOR_FEH_ERR[i], yerr=ye, fmt='none', ecolor='#ff0000',
                    elinewidth=1.5, capsize=4, capthick=1.5, zorder=4)
        ax.plot(HOR_FEH[i], y, 'o', ms=8.2, mfc='white', mec='#ff0000', mew=3.3, zorder=5)
    for i, y in hor_lim:
        ax.plot(HOR_FEH[i], y, 'v', ms=11, mfc='#ff0000', mec='#ff0000', mew=1.5, zorder=5)
    ax.set_xlim(-4, -1.5)
    ax.set_ylim(*ylim)
    ax.set_xticks([-4, -3.5, -3, -2.5, -2, -1.5])
    ax.set_yticks(yticks)
    ax.xaxis.set_major_formatter(fmt)
    ax.yaxis.set_major_formatter(fmt)
    ax.tick_params(direction='in', top=True, right=True, length=5, width=0.8, color=SPINE,
                   labelsize=13.5, pad=3)
    for s in ax.spines.values():
        s.set_color(SPINE)
        s.set_linewidth(1.0)
    ax.set_xlabel('[Fe/H]', fontsize=14, labelpad=3)
    ax.set_ylabel(ylabel, fontsize=14, labelpad=2)

LEFTS = [73, 533, 993]
TOPS = [15, 347, 680, 1012]

panel(ax_at(LEFTS[0], TOPS[0]), '[Mg/Fe]', (-0.5, 1), [-0.5, 0, 0.5, 1], halo=MG_HALO, dwarf=MG_DWARF, hor=MG_HOR)
panel(ax_at(LEFTS[1], TOPS[0]), '[Si/Fe]', (-0.5, 2.5), [-0.5, 0, 0.5, 1, 1.5, 2, 2.5], halo=SI_HALO,
      halo_lim=SI_HALO_LIM, dwarf=SI_DWARF, hor=SI_HOR, hor_lim=SI_HOR_LIM)
panel(ax_at(LEFTS[2], TOPS[0]), '[Ca/Fe]', (-0.5, 1), [-0.5, 0, 0.5, 1], halo=CA_HALO, halo_fill=CA_HALO_FILL,
      dwarf=CA_DWARF, hor=CA_HOR)
panel(ax_at(LEFTS[0], TOPS[1]), '[Sc/Fe]', (-1, 1), [-1, -0.5, 0, 0.5, 1], halo=SC_HALO, dwarf=SC_DWARF,
      hor=SC_HOR, hor_lim=SC_HOR_LIM)
panel(ax_at(LEFTS[1], TOPS[1]), '[Ti/Fe]', (-0.5, 1.1), [-0.5, 0, 0.5, 1], halo=TI_HALO, dwarf=TI_DWARF, hor=TI_HOR)
panel(ax_at(LEFTS[2], TOPS[1]), '[Cr/Fe]', (-0.8, 0.5), [-0.8, -0.6, -0.4, -0.2, 0, 0.2, 0.4], halo=CR_HALO,
      halo_fill=CR_HALO_FILL, dwarf=CR_DWARF, hor=CR_HOR)
panel(ax_at(LEFTS[0], TOPS[2]), '[Mn/Fe]', (-1, 1), [-1, -0.5, 0, 0.5, 1], halo=MN_HALO, halo_lim=MN_HALO_LIM,
      dwarf=MN_DWARF, hor=MN_HOR)
panel(ax_at(LEFTS[1], TOPS[2]), '[Ni/Fe]', (-1, 1.6), [-1, -0.5, 0, 0.5, 1, 1.5], halo=NI_HALO, dwarf=NI_DWARF,
      hor=NI_HOR)
panel(ax_at(LEFTS[0], TOPS[3]), '[Ba/Fe]', (-2, 2.5), [-2, -1.5, -1, -0.5, 0, 0.5, 1, 1.5, 2, 2.5], halo=BA_HALO,
      halo_fill=BA_HALO_FILL, halo_lim=BA_HALO_LIM, halo_lim_fill=BA_HALO_LIM_FILL, dwarf=BA_DWARF,
      hor=BA_HOR, hor_lim=BA_HOR_LIM)
panel(ax_at(LEFTS[1], TOPS[3]), '[Eu/Fe]', (-0.5, 2.62), [-0.5, 0, 0.5, 1, 1.5, 2, 2.5], halo=EU_HALO,
      halo_lim=EU_HALO_LIM, dwarf=EU_DWARF, hor_lim=EU_HOR_LIM)

# ---------------- legend ----------------
h_open = Line2D([], [], ls='none', marker='o', ms=4.4, mfc='none', mec=GREY, mew=1.0)
h_fill = Line2D([], [], ls='none', marker='o', ms=4.6, mfc=GREY, mec=GREY)
h_hor = Line2D([], [], ls='none', marker='o', ms=7.5, mfc='white', mec='#ff0000', mew=2.8)
handles = [(h_open, h_fill), h_hor] + [Line2D([], [], ls='none', marker='s', ms=5, mfc=LEGEND_COLORS[g],
                                               mec=LEGEND_COLORS[g]) for g in GALAXIES]
labels = ['MW Halo', 'Hor I Stars'] + GAL_LABELS
leg_w = (1199 - 991) / W
leg_top = 1 - 697 / H
leg = fig.legend(handles, labels, loc='upper left', mode='expand',
                 bbox_to_anchor=(991 / W, leg_top - 0.3, leg_w, 0.3),
                 handler_map={tuple: HandlerTuple(ndivide=None, pad=0.3)}, frameon=True, fancybox=False,
                 edgecolor='#505050', fontsize=14, labelspacing=0.38, handlelength=1.3, handletextpad=0.35,
                 borderpad=0.45, borderaxespad=0)
leg.get_frame().set_linewidth(1.0)

fig.savefig('out.png', dpi=100)
